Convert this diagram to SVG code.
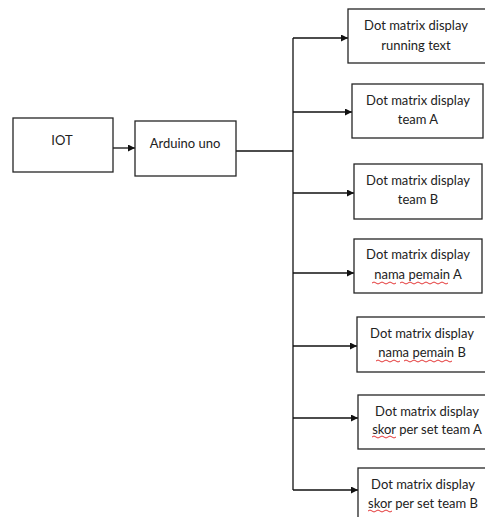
<svg xmlns="http://www.w3.org/2000/svg" width="485" height="517" viewBox="0 0 485 517">
<style>
.box{fill:#fff;stroke:#262626;stroke-width:1.3}
.t{font-family:Lato,"Liberation Sans",sans-serif;font-size:13px;fill:#222;text-anchor:middle}
.c{fill:none;stroke:#111;stroke-width:1.3}
.sq{fill:none;stroke:#e02020;stroke-width:0.9}
</style>
<defs>
<marker id="ah" markerUnits="userSpaceOnUse" markerWidth="8" markerHeight="7" refX="7" refY="3.5" orient="auto">
<path d="M0,0 L7,3.5 L0,7 z" fill="#111"/>
</marker>
</defs>
<rect width="485" height="517" fill="#fff"/>
<g id="connectors">
<line class="c" x1="113" y1="148" x2="135" y2="148" marker-end="url(#ah)"/>
<line class="c" x1="236" y1="151" x2="293" y2="151"/>
<line class="c" x1="293" y1="38" x2="293" y2="490"/>
<line class="c" x1="293" y1="38" x2="348" y2="38" marker-end="url(#ah)"/>
<line class="c" x1="293" y1="112" x2="352" y2="112" marker-end="url(#ah)"/>
<line class="c" x1="293" y1="193" x2="354" y2="193" marker-end="url(#ah)"/>
<line class="c" x1="293" y1="273" x2="354" y2="273" marker-end="url(#ah)"/>
<line class="c" x1="293" y1="346" x2="357" y2="346" marker-end="url(#ah)"/>
<line class="c" x1="293" y1="418" x2="358" y2="418" marker-end="url(#ah)"/>
<line class="c" x1="293" y1="490" x2="358" y2="490" marker-end="url(#ah)"/>
</g>
<g id="iot">
<rect class="box" x="13" y="118" width="100" height="54"/>
<text class="t" x="62" y="144.5">IOT</text>
</g>
<g id="arduino">
<rect class="box" x="135" y="121" width="101" height="55"/>
<text class="t" x="185" y="147.5">Arduino uno</text>
</g>
<g id="running-text">
<rect class="box" x="348" y="9" width="140" height="54"/>
<text class="t" x="416" y="29.5">Dot matrix display</text>
<text class="t" x="416" y="49.5">running text</text>
</g>
<g id="team-a">
<rect class="box" x="352" y="84" width="131" height="54"/>
<text class="t" x="418" y="104.5">Dot matrix display</text>
<text class="t" x="418" y="123.5">team A</text>
</g>
<g id="team-b">
<rect class="box" x="354" y="164" width="128" height="55"/>
<text class="t" x="418" y="184.5">Dot matrix display</text>
<text class="t" x="418" y="203.5">team B</text>
</g>
<g id="nama-pemain-a">
<rect class="box" x="354" y="239" width="128" height="54"/>
<text class="t" x="418" y="258.5">Dot matrix display</text>
<text class="t" x="418" y="278.5">nama pemain A</text>
<path class="sq" d="M372,283 q2,-2 4,0 t4,0 t4,0 t4,0 t4,0 t4,0 M400,283 q2,-2 4,0 t4,0 t4,0 t4,0 t4,0 t4,0 t4,0 t4,0 t4,0 t4,0 t4,0 t4,0"/>
</g>
<g id="nama-pemain-b">
<rect class="box" x="357" y="317" width="130" height="55"/>
<text class="t" x="422" y="337.5">Dot matrix display</text>
<text class="t" x="422" y="356.5">nama pemain B</text>
<path class="sq" d="M376,361 q2,-2 4,0 t4,0 t4,0 t4,0 t4,0 t4,0 M404,361 q2,-2 4,0 t4,0 t4,0 t4,0 t4,0 t4,0 t4,0 t4,0 t4,0 t4,0 t4,0 t4,0"/>
</g>
<g id="skor-a">
<rect class="box" x="358" y="395" width="138" height="54"/>
<text class="t" x="427" y="415.5">Dot matrix display</text>
<text class="t" x="427" y="433.5">skor per set team A</text>
<path class="sq" d="M372,437 q2,-2 4,0 t4,0 t4,0 t4,0 t4,0 t4,0"/>
</g>
<g id="skor-b">
<rect class="box" x="358" y="468" width="130" height="60"/>
<text class="t" x="423" y="488.5">Dot matrix display</text>
<text class="t" x="423" y="507.5">skor per set team B</text>
<path class="sq" d="M368,511 q2,-2 4,0 t4,0 t4,0 t4,0 t4,0 t4,0"/>
</g>
</svg>
